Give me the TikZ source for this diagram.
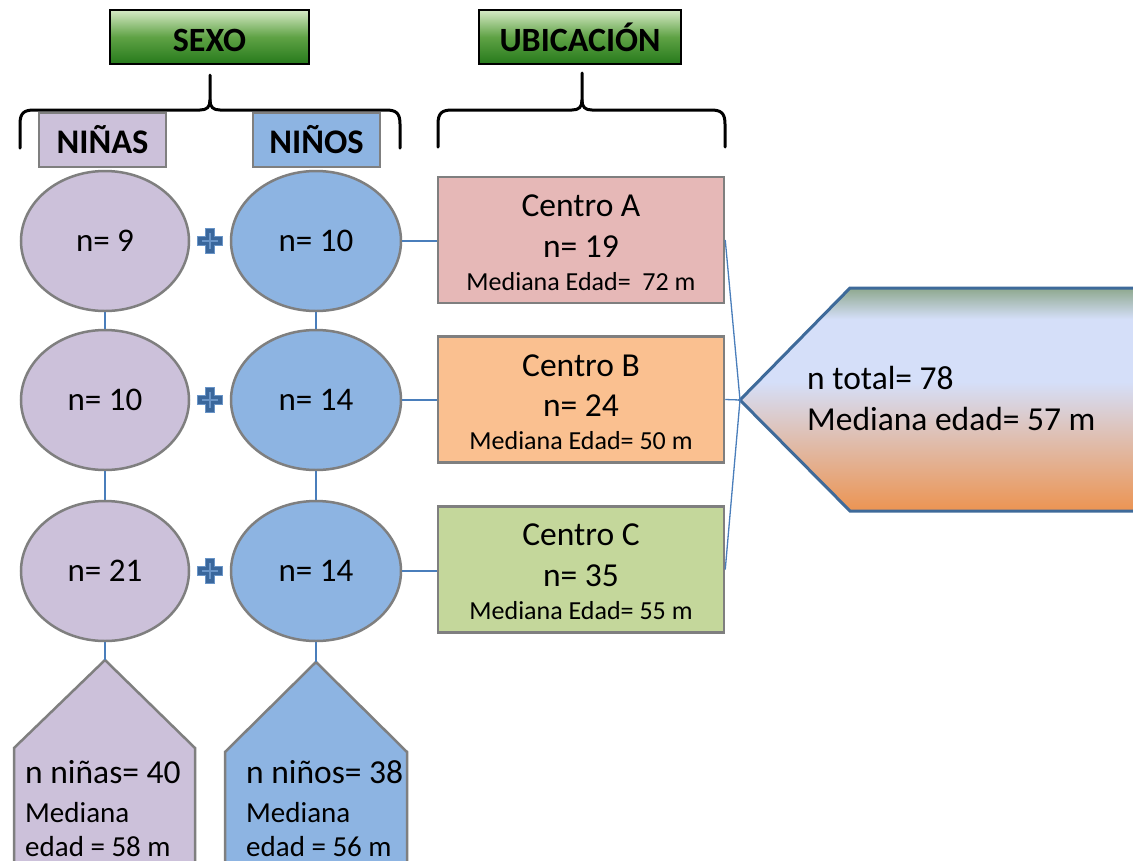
\documentclass[tikz,border=0pt]{standalone}
\usepackage{fontspec}
\setmainfont{Carlito}
\usetikzlibrary{shapes.geometric}
\definecolor{lav}{HTML}{CCC1DA}
\definecolor{blu}{HTML}{8DB4E2}
\definecolor{bord}{HTML}{7F7F7F}
\definecolor{conn}{HTML}{4A7EBB}
\definecolor{ca}{HTML}{E6B8B7}
\definecolor{cb}{HTML}{FAC090}
\definecolor{cc}{HTML}{C4D79B}
\definecolor{pentc}{HTML}{3E6A9A}
\definecolor{plusc}{HTML}{3A679C}
\definecolor{plusl}{HTML}{6A95C8}
\definecolor{gtop}{HTML}{D6EAC6}
\definecolor{gmid}{HTML}{5FA245}
\definecolor{gbot}{HTML}{267A1B}
\definecolor{sg}{HTML}{8EA88E}
\definecolor{sl}{HTML}{D5DFF9}
\definecolor{so}{HTML}{EC9452}
\pgfdeclareverticalshading{totalsh}{100bp}{color(0bp)=(so); color(25bp)=(so); color(54bp)=(sl); color(68bp)=(sl); color(75bp)=(sg); color(100bp)=(sg)}
\tikzset{
  hdr/.style={draw=black, line width=1.2pt, top color=gtop, bottom color=gbot, middle color=gmid,
    minimum height=54pt, inner sep=0pt, text height=28pt, text depth=0pt,
    font=\bfseries\fontsize{34}{34}\selectfont},
  catbox/.style={draw=bord, line width=2pt, minimum width=127pt, minimum height=54pt, inner sep=0pt,
    font=\bfseries\fontsize{34.5}{34}\selectfont},
  ell/.style={ellipse, draw=bord, line width=2.5pt, minimum height=140pt, inner sep=0pt,
    font=\fontsize{33}{33}\selectfont},
  centro/.style={draw=bord, line width=2.5pt, minimum width=286pt, minimum height=126pt, inner sep=0pt},
  big/.style={font=\fontsize{33.5}{33}\selectfont, inner sep=0pt},
  mid/.style={font=\fontsize{29}{29}\selectfont, inner sep=0pt},
  small/.style={font=\fontsize{26}{26}\selectfont, inner sep=0pt},
  conn/.style={draw=conn, line width=1.3pt},
  brace/.style={draw=black, line width=3pt, line cap=round, line join=round},
  house/.style={draw=bord, line width=2.5pt, line join=miter},
  plusmark/.pic={
    \filldraw[fill=plusc, draw=plusl, line width=0.8pt] (-4.5,-12.5) -- (4.5,-12.5) -- (4.5,-4.5) -- (12.5,-4.5) -- (12.5,4.5) -- (4.5,4.5) -- (4.5,12.5) -- (-4.5,12.5) -- (-4.5,4.5) -- (-12.5,4.5) -- (-12.5,-4.5) -- (-4.5,-4.5) -- cycle;
    \draw[plusl, line width=1.2pt] (0,-8) -- (0,8) (-8,0) -- (8,0);
  }
}
\begin{document}
\begin{tikzpicture}[x=1pt, y=-1pt]
\useasboundingbox (0,0) rectangle (1133,860);
\fill[white] (0,0) rectangle (1133,860);
\clip (0,0) rectangle (1133,860);

% headers
\node[hdr, minimum width=199pt] (sexo) at (209.5,37) {SEXO};
\node[hdr, minimum width=202pt] (ubic) at (580,37) {UBICACIÓN};

% braces
\draw[brace] (20,148) -- (20,124) .. controls (20,113) and (24,110) .. (34,110) -- (200,110) .. controls (207,110) and (210,107) .. (210,100) -- (210,75);
\draw[brace] (210,100) .. controls (210,107) and (213,110) .. (220,110) -- (386,110) .. controls (396,110) and (400,113) .. (400,124) -- (400,148);
\draw[brace] (438,147) -- (438,124) .. controls (438,113) and (442,110) .. (452,110) -- (572,110) .. controls (579,110) and (582,107) .. (582,100) -- (582,73);
\draw[brace] (582,100) .. controls (582,107) and (585,110) .. (592,110) -- (711,110) .. controls (721,110) and (725,113) .. (725,124) -- (725,147);

% category boxes
\node[catbox, fill=lav] (ninas) at (102.5,140) {NIÑAS};
\node[catbox, fill=blu] (ninos) at (316.5,140) {NIÑOS};

% ellipses
\node[ell, fill=lav, minimum width=168pt] (l1) at (105,241) {n= 9};
\node[ell, fill=lav, minimum width=168pt] (l2) at (105,400) {n= 10};
\node[ell, fill=lav, minimum width=168pt] (l3) at (105,571) {n= 21};
\node[ell, fill=blu, minimum width=170pt] (r1) at (316,241) {n= 10};
\node[ell, fill=blu, minimum width=170pt] (r2) at (316,400) {n= 14};
\node[ell, fill=blu, minimum width=170pt] (r3) at (316,571) {n= 14};

% plus signs
\pic at (210,241) {plusmark};
\pic at (210,400) {plusmark};
\pic at (210,571) {plusmark};

% centro boxes
\node[centro, fill=ca] (cA) at (581,240) {};
\node[centro, fill=cb] (cB) at (581,399.5) {};
\node[centro, fill=cc] (cC) at (581,569.5) {};
\node[big, anchor=base] (tA1) at (581,216) {Centro A};
\node[big, anchor=base] (tA2) at (581,257) {n= 19};
\node[small, anchor=base] (tA3) at (581,290) {Mediana Edad=\ \ 72 m};
\node[big, anchor=base] (tB1) at (581,376) {Centro B};
\node[big, anchor=base] (tB2) at (581,416) {n= 24};
\node[small, anchor=base] (tB3) at (581,449) {Mediana Edad= 50 m};
\node[big, anchor=base] (tC1) at (581,545) {Centro C};
\node[big, anchor=base] (tC2) at (581,586) {n= 35};
\node[small, anchor=base] (tC3) at (581,619) {Mediana Edad= 55 m};

% total pentagon
\coordinate (ptip) at (740,400);
\shadedraw[shading=totalsh, draw=pentc, line width=3pt, line join=miter] (ptip) -- (850,288) -- (1145,288) -- (1145,511) -- (850,511) -- cycle;
\node[big, anchor=base west] (tot1) at (807,389) {n total= 78};
\node[big, anchor=base west] (tot2) at (807,430) {Mediana edad= 57 m};

% bottom houses
\coordinate (ltip) at (105,660);
\coordinate (rtip) at (316,662);
\filldraw[house, fill=lav] (ltip) -- (195,748) -- (195,875) -- (14,875) -- (14,748) -- cycle;
\filldraw[house, fill=blu] (rtip) -- (407,752) -- (407,875) -- (225,875) -- (225,752) -- cycle;
\node[big, anchor=base west] (n1) at (25,783) {n niñas= 40};
\node[mid, anchor=base west] (n2) at (25,822) {Mediana};
\node[mid, anchor=base west] (n3) at (25,856) {edad = 58 m};
\node[big, anchor=base west] (m1) at (246,783) {n niños= 38};
\node[mid, anchor=base west] (m2) at (246,822) {Mediana};
\node[mid, anchor=base west] (m3) at (246,856) {edad = 56 m};

% connectors
\draw[conn] (l1.south) -- (l2.north);
\draw[conn] (l2.south) -- (l3.north);
\draw[conn] (l3.south) -- (ltip);
\draw[conn] (r1.south) -- (r2.north);
\draw[conn] (r2.south) -- (r3.north);
\draw[conn] (r3.south) -- (rtip);
\draw[conn] (r1.east) -- (cA.west |- r1.east);
\draw[conn] (r2.east) -- (cB.west |- r2.east);
\draw[conn] (r3.east) -- (cC.west |- r3.east);
\draw[conn] (cA.east) -- (ptip);
\draw[conn] (cB.east) -- (ptip);
\draw[conn] (cC.east) -- (ptip);
\end{tikzpicture}
\end{document}
